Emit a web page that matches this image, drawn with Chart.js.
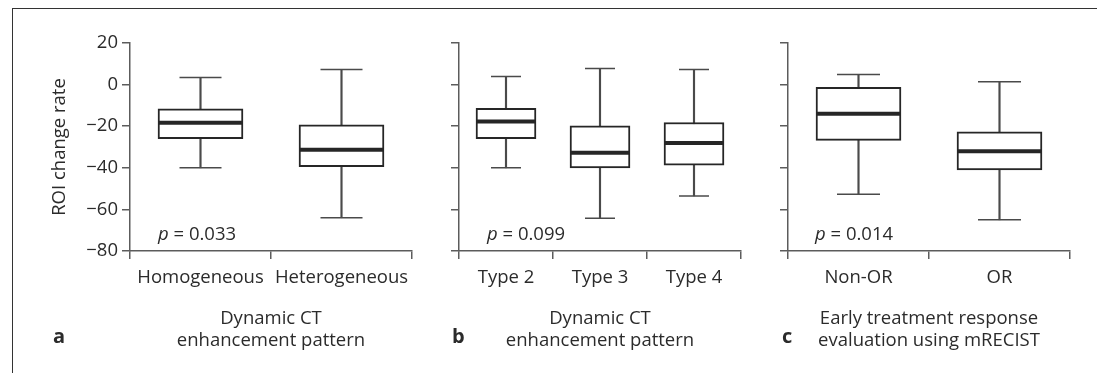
<!DOCTYPE html>
<html>
<head>
<meta charset="utf-8">
<script src="https://cdn.jsdelivr.net/npm/chart.js@4.4.1/dist/chart.umd.min.js"></script>
<style>
body { margin: 0; width: 1097px; height: 373px; position: relative; overflow: hidden; background: #fff; font-family: "Open Sans", sans-serif; color: #2b2b2b; }
#marco { position: absolute; left: 12px; top: 8px; width: 1200px; height: 500px; border-left: 1.5px solid #333; border-top: 1.5px solid #333; }
canvas { position: absolute; top: 10px; }
.letra { position: absolute; top: 326px; font-weight: bold; font-size: 20px; line-height: 20px; }
.pval { position: absolute; top: 224px; font-size: 18.5px; line-height: 18px; }
</style>
</head>
<body>
<div id="marco"></div>
<canvas id="panelA" width="420" height="363" style="left:13px"></canvas>
<canvas id="panelB" width="320" height="363" style="left:445px"></canvas>
<canvas id="panelC" width="320" height="363" style="left:774px"></canvas>
<div class="pval" style="left:158px"><i>p</i> = 0.033</div>
<div class="pval" style="left:487px"><i>p</i> = 0.099</div>
<div class="pval" style="left:815px"><i>p</i> = 0.014</div>
<div class="letra" style="left:53px">a</div>
<div class="letra" style="left:452px">b</div>
<div class="letra" style="left:782px">c</div>
<script>
// panel a
const categoriasA = ['Homogeneous', 'Heterogeneous'];
const maxA = [3.4, 7.2];
const q3A = [-11.6, -19.3];
const medianaA = [-18.3, -31.3];
const q1A = [-26, -39.5];
const minA = [-40, -64];

// panel b
const categoriasB = ['Type 2', 'Type 3', 'Type 4'];
const maxB = [3.9, 7.7, 7.2];
const q3B = [-11.4, -19.8, -18.2];
const medianaB = [-17.8, -32.8, -28.1];
const q1B = [-26, -40, -38.7];
const minB = [-40, -64.3, -53.5];

// panel c
const categoriasC = ['Non-OR', 'OR'];
const maxC = [4.8, 1.4];
const q3C = [-1.3, -22.7];
const medianaC = [-14, -32.1];
const q1C = [-26.8, -41];
const minC = [-52.7, -65];

const tituloEjeY = 'ROI change rate';
const tituloEjeX_AB = ['Dynamic CT', 'enhancement pattern'];
const tituloEjeX_C = ['Early treatment response', 'evaluation using mRECIST'];
const ticksY = { min: -80, max: 20, paso: 20 };

const FUENTE = '"Open Sans", sans-serif';
const TAM = 18.5;
const colorEje = '#5c5c5c';
const colorCaja = '#262626';
const colorBigote = '#4a4a4a';
const colorTexto = '#2b2b2b';

function crearPanel(id, categorias, min, q1, mediana, q3, max, cfg) {
    return new Chart(document.getElementById(id), {
        type: 'bar',
        data: {
            labels: categorias,
            datasets: [
                {
                    // bigote vertical
                    type: 'bar',
                    data: min.map((v, i) => [v, max[i]]),
                    backgroundColor: colorBigote,
                    borderWidth: 0,
                    barThickness: 1.5,
                    grouped: false,
                    order: 3
                },
                {
                    // caja
                    type: 'bar',
                    data: q1.map((v, i) => [v, q3[i]]),
                    backgroundColor: '#ffffff',
                    borderColor: colorCaja,
                    borderWidth: 2,
                    borderSkipped: false,
                    barThickness: cfg.anchoCaja,
                    grouped: false,
                    order: 2
                },
                {
                    type: 'line',
                    data: max,
                    showLine: false,
                    pointStyle: 'line',
                    pointRadius: cfg.radioTope,
                    pointBorderColor: colorBigote,
                    pointBorderWidth: 1.5,
                    order: 1
                },
                {
                    type: 'line',
                    data: min,
                    showLine: false,
                    pointStyle: 'line',
                    pointRadius: cfg.radioTope,
                    pointBorderColor: colorBigote,
                    pointBorderWidth: 1.5,
                    order: 1
                },
                {
                    // mediana
                    type: 'line',
                    data: mediana,
                    showLine: false,
                    pointStyle: 'line',
                    pointRadius: cfg.anchoCaja / 2 - 1,
                    pointBorderColor: colorCaja,
                    pointBorderWidth: 4,
                    order: 0
                }
            ]
        },
        options: {
            responsive: false,
            animation: false,
            layout: { autoPadding: false, padding: { top: 33, bottom: 0, left: 0, right: cfg.margenDer } },
            plugins: { legend: { display: false }, tooltip: { enabled: false } },
            scales: {
                x: {
                    offset: true,
                    grid: { offset: true, drawOnChartArea: false, tickLength: 8, color: colorEje, lineWidth: 1.5 },
                    border: { color: colorEje, width: 1.5 },
                    ticks: { color: colorTexto, font: { family: FUENTE, size: TAM }, padding: 8, maxRotation: 0, autoSkip: false },
                    title: {
                        display: true,
                        text: cfg.tituloX,
                        color: colorTexto,
                        font: { family: FUENTE, size: TAM, lineHeight: 1.2 },
                        padding: { top: 0, bottom: 21 }
                    },
                    afterFit: s => { s.height = 122; }
                },
                y: {
                    min: ticksY.min,
                    max: ticksY.max,
                    grid: { drawOnChartArea: false, tickLength: 8, color: colorEje, lineWidth: 1.5 },
                    border: { color: colorEje, width: 1.5 },
                    ticks: {
                        stepSize: ticksY.paso,
                        display: cfg.conEtiquetas,
                        color: colorTexto,
                        padding: 4,
                        font: { family: FUENTE, size: TAM },
                        callback: v => v < 0 ? '\u2212' + Math.abs(v) : String(v)
                    },
                    title: {
                        display: cfg.conEtiquetas,
                        text: tituloEjeY,
                        color: colorTexto,
                        font: { family: FUENTE, size: TAM, lineHeight: 1.2 },
                        padding: { top: 36, bottom: 0 }
                    },
                    afterFit: s => { s.width = cfg.anchoY; }
                }
            }
        }
    });
}

crearPanel('panelA', categoriasA, minA, q1A, medianaA, q3A, maxA,
    { anchoCaja: 85, radioTope: 21, anchoY: 117, margenDer: 21, conEtiquetas: true, tituloX: tituloEjeX_AB });
crearPanel('panelB', categoriasB, minB, q1B, medianaB, q3B, maxB,
    { anchoCaja: 60, radioTope: 15, anchoY: 14, margenDer: 24, conEtiquetas: false, tituloX: tituloEjeX_AB });
crearPanel('panelC', categoriasC, minC, q1C, medianaC, q3C, maxC,
    { anchoCaja: 85, radioTope: 21.5, anchoY: 14, margenDer: 24, conEtiquetas: false, tituloX: tituloEjeX_C });
</script>
</body>
</html>
